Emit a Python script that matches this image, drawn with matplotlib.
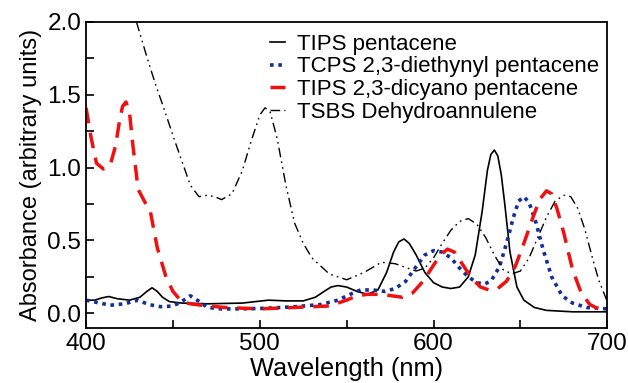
import matplotlib
matplotlib.use("Agg")
import matplotlib.pyplot as plt
from matplotlib.ticker import MultipleLocator

plt.rcParams['font.family'] = ['Liberation Sans', 'DejaVu Sans']

# TIPS pentacene (negro continuo)
wl_tips = [400, 405, 409, 413, 418, 425, 431, 435, 438, 441, 444, 448, 455, 470, 490, 505, 515, 525, 532, 537, 541, 545, 550, 556,
           562, 568, 573, 577, 580, 583, 586, 590, 595, 600, 605, 610, 615, 620, 624, 628, 631, 633, 635, 637,
           639, 641, 644, 648, 652, 658, 665, 680, 700]
ab_tips = [0.09, 0.09, 0.105, 0.115, 0.10, 0.09, 0.11, 0.15, 0.175, 0.15, 0.11, 0.08, 0.07, 0.065, 0.07, 0.09, 0.085, 0.085, 0.11, 0.15, 0.18, 0.19, 0.18, 0.15,
           0.13, 0.16, 0.28, 0.42, 0.49, 0.51, 0.48, 0.40, 0.28, 0.21, 0.18, 0.17, 0.18, 0.25, 0.40, 0.70, 0.98, 1.09, 1.12,
           1.08, 0.95, 0.75, 0.42, 0.18, 0.09, 0.04, 0.02, 0.01, 0.01]

# TCPS 2,3-dietinil pentaceno (azul punteado)
wl_tcps = [400, 406, 414, 422, 430, 436, 443, 450, 455, 460, 464, 470, 478, 490, 505, 520, 535, 545, 552, 558,
           565, 572, 578, 584, 590, 595, 600, 605, 610, 615, 620, 625, 629, 633, 638, 642, 646, 649, 652,
           655, 659, 663, 668, 674, 680, 688, 700]
ab_tcps = [0.09, 0.075, 0.055, 0.065, 0.09, 0.06, 0.045, 0.05, 0.08, 0.12, 0.09, 0.04, 0.03, 0.03, 0.035, 0.045, 0.06, 0.09, 0.13, 0.16,
           0.16, 0.15, 0.17, 0.22, 0.32, 0.40, 0.43, 0.42, 0.38, 0.31, 0.25, 0.21, 0.20, 0.22, 0.32, 0.48, 0.66, 0.77, 0.80,
           0.76, 0.62, 0.44, 0.25, 0.12, 0.07, 0.04, 0.03]

# TIPS 2,3-diciano pentaceno (rojo discontinuo)
wl_cyano = [400, 403, 406, 410, 414, 417, 419, 421, 423, 425, 427, 430, 434, 437, 441, 446, 450, 455, 460, 470, 480,
            500, 520, 540, 550, 556, 562, 570, 576, 582, 588, 594, 600, 604, 608, 612, 617, 622, 627, 632,
            637, 642, 647, 652, 657, 661, 665, 668, 671, 675, 680, 685, 690, 695, 700]
ab_cyano = [1.41, 1.20, 1.03, 0.99, 1.02, 1.15, 1.30, 1.42, 1.45, 1.38, 1.15, 0.85, 0.76, 0.70, 0.45, 0.25, 0.15, 0.08, 0.065, 0.05, 0.04,
            0.03, 0.04, 0.05, 0.09, 0.12, 0.13, 0.13, 0.12, 0.11, 0.14, 0.22, 0.33, 0.40, 0.44, 0.42, 0.33, 0.24, 0.18, 0.16,
            0.17, 0.22, 0.32, 0.48, 0.65, 0.78, 0.84, 0.82, 0.72, 0.55, 0.30, 0.14, 0.06, 0.03, 0.01]

# TSBS Dehidroanuleno (negro raya-punto-punto)
wl_tsbs = [429, 435, 440, 445, 450, 455, 460, 465, 470, 474, 478, 484, 490, 495, 500, 503, 506, 510, 515, 520,
           525, 530, 540, 550, 560, 570, 578, 585, 590, 595, 600, 605, 610, 615, 620, 625, 630, 635, 640,
           645, 650, 655, 660, 665, 670, 675, 679, 683, 687, 691, 695, 700]
ab_tsbs = [2.00, 1.76, 1.57, 1.40, 1.22, 1.05, 0.88, 0.80, 0.81, 0.80, 0.78, 0.82, 0.98, 1.18, 1.36, 1.41, 1.38, 1.20, 0.88, 0.62,
           0.48, 0.38, 0.27, 0.23, 0.28, 0.35, 0.34, 0.31, 0.29, 0.31, 0.38, 0.48, 0.57, 0.63, 0.65, 0.61, 0.52, 0.40, 0.30,
           0.27, 0.29, 0.38, 0.52, 0.66, 0.77, 0.81, 0.80, 0.72, 0.58, 0.40, 0.23, 0.08]

fig, ax = plt.subplots(figsize=(6.28, 3.83), dpi=100)
fig.subplots_adjust(left=0.137, right=0.967, top=0.943, bottom=0.144)

ax.plot(wl_tips, ab_tips, color='black', lw=1.2, label='TIPS pentacene')
ax.plot(wl_tcps, ab_tcps, color='#102f9a', lw=2.6, ls=(0, (1, 1.3)), label='TCPS 2,3-diethynyl pentacene')
ax.plot(wl_cyano, ab_cyano, color='#f01010', lw=2.5, ls=(0, (4.5, 2.8)), label='TIPS 2,3-dicyano pentacene')
ax.plot(wl_tsbs, ab_tsbs, color='black', lw=1.0, ls=(0, (7, 3, 1.2, 3, 1.2, 3)), label='TSBS Dehydroannulene')

ax.set_xlim(400, 700)
ax.set_ylim(-0.1, 2.0)
ax.xaxis.set_major_locator(MultipleLocator(100))
ax.xaxis.set_minor_locator(MultipleLocator(50))
ax.yaxis.set_major_locator(MultipleLocator(0.5))
ax.yaxis.set_minor_locator(MultipleLocator(0.25))
ax.tick_params(which='both', direction='in', labelsize=17.5, width=1.2)
ax.tick_params(which='major', length=6)
ax.tick_params(which='minor', length=6)
for s in ax.spines.values():
    s.set_linewidth(1.3)

ax.set_xlabel('Wavelength (nm)', fontsize=18.3, labelpad=2)
ax.set_ylabel('Absorbance (arbitrary units)', fontsize=17, labelpad=4)

ax.legend(loc='upper right', bbox_to_anchor=(1.0, 0.986), frameon=False, fontsize=16,
          handlelength=0.7, handletextpad=0.55, labelspacing=0.07, borderaxespad=0.15, borderpad=0.2)

fig.savefig('out.png', dpi=100)
